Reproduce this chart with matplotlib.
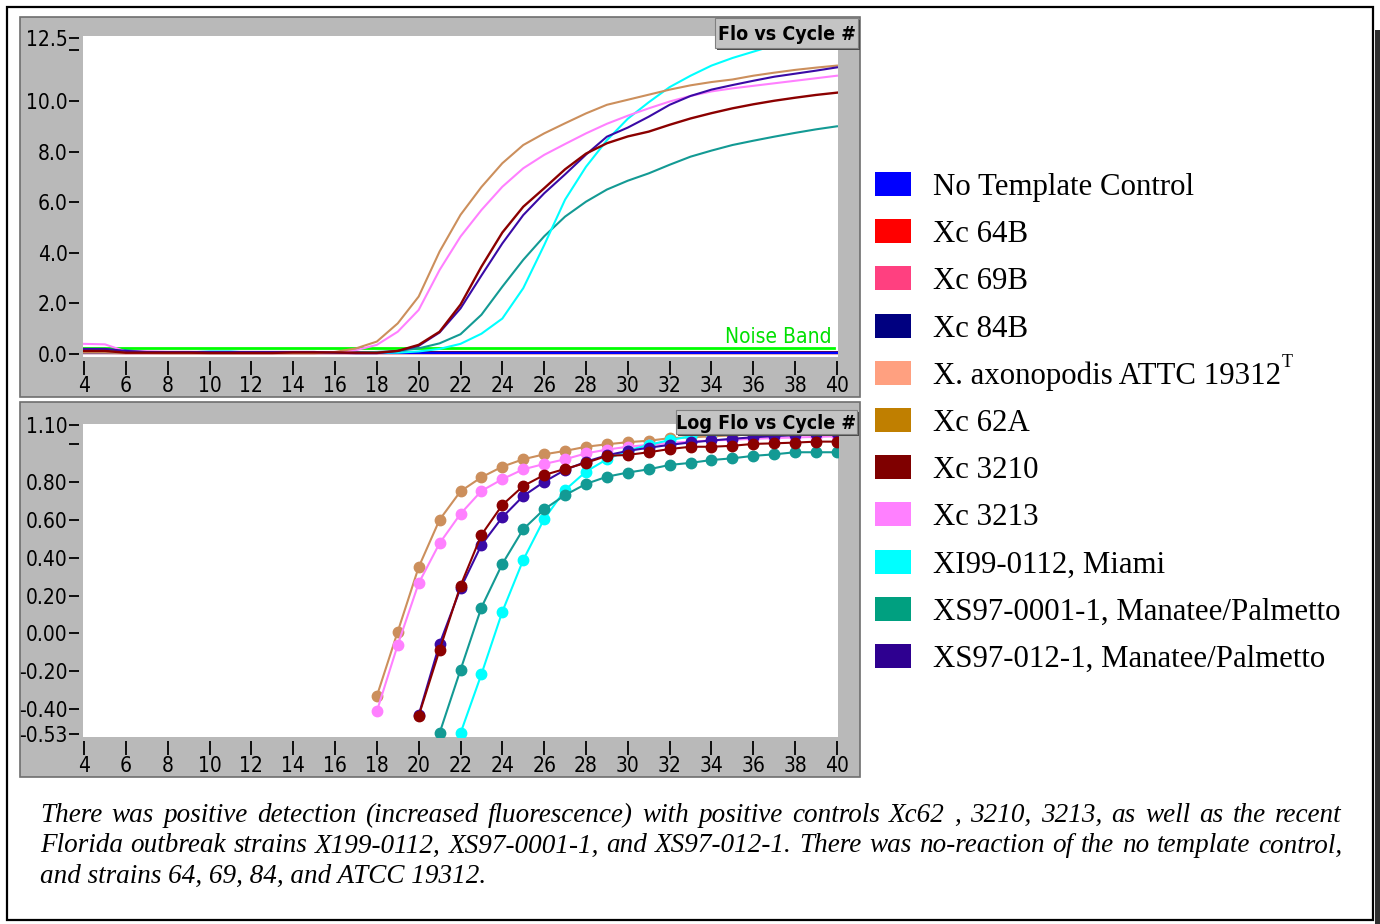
import os
import matplotlib
matplotlib.use("Agg")
import matplotlib.pyplot as plt
from matplotlib.patches import Rectangle
from matplotlib import font_manager
from matplotlib.font_manager import FontProperties
import numpy as np

W, H = 1380, 924
nan = np.nan

# ---- data -------------------------------------------------------------
cycles = list(range(4, 41))

# fluorescence (top panel), one value per cycle 4..40
ntc_flo = [0.04, 0.04, 0.04, 0.04, 0.04, 0.04, 0.04, 0.04, 0.04, 0.04, 0.04, 0.04, 0.04,
           0.04, 0.04, 0.04, 0.04, 0.04, 0.04, 0.04, 0.04, 0.04, 0.04, 0.04, 0.04,
           0.04, 0.04, 0.04, 0.04, 0.04, 0.04, 0.04, 0.04, 0.04, 0.04, 0.04, 0.04]
xc64b_flo = [0.07, 0.07, 0.07, 0.07, 0.07, 0.07, 0.07, 0.06, 0.06, 0.06, 0.06, 0.06, 0.06,
             0.06, 0.07, 0.07, 0.07, 0.07, 0.07, 0.07, 0.07, 0.07, 0.07, 0.07, 0.07,
             0.07, 0.07, 0.07, 0.07, 0.07, 0.07, 0.07, 0.07, 0.07, 0.07, 0.07, 0.07]
xc69b_flo = [0.05, 0.05, 0.04, 0.04, 0.04, 0.04, 0.04, 0.04, 0.04, 0.04, 0.04, 0.04, 0.04,
             0.04, 0.04, 0.04, 0.04, 0.04, 0.04, 0.04, 0.04, 0.04, 0.04, 0.04, 0.04,
             0.04, 0.04, 0.04, 0.04, 0.04, 0.04, 0.04, 0.04, 0.04, 0.04, 0.04, 0.04]
xc84b_flo = [0.12, 0.12, 0.06, 0.06, 0.06, 0.06, 0.06, 0.06, 0.06, 0.06, 0.06, 0.06, 0.06,
             0.06, 0.06, 0.06, 0.06, 0.06, 0.06, 0.06, 0.06, 0.06, 0.06, 0.06, 0.06,
             0.06, 0.06, 0.06, 0.06, 0.06, 0.06, 0.06, 0.06, 0.06, 0.06, 0.06, 0.06]
atcc_flo = [0.03, 0.03, 0.02, 0.02, 0.02, 0.02, 0.02, 0.02, 0.02, 0.02, 0.02, 0.02, 0.02,
            0.02, 0.02, 0.02, 0.02, 0.02, 0.02, 0.02, 0.02, 0.02, 0.02, 0.02, 0.02,
            0.02, 0.02, 0.02, 0.02, 0.02, 0.02, 0.02, 0.02, 0.02, 0.02, 0.02, 0.02]
xc62a_flo = [0.05, 0.05, 0.04, 0.04, 0.03, 0.03, 0.03, 0.03, 0.03, 0.03, 0.03, 0.03, 0.08,
             0.22, 0.49, 1.21, 2.27, 4.05, 5.50, 6.60, 7.54, 8.26, 8.72, 9.12, 9.51,
             9.85, 10.05, 10.25, 10.45, 10.62, 10.75, 10.85, 11.00, 11.12, 11.23, 11.32, 11.40]
xc3213_flo = [0.40, 0.38, 0.10, 0.10, 0.08, 0.08, 0.06, 0.05, 0.05, 0.05, 0.05, 0.05, 0.06,
              0.15, 0.36, 0.88, 1.74, 3.32, 4.64, 5.69, 6.61, 7.34, 7.87, 8.30, 8.72,
              9.10, 9.42, 9.71, 9.98, 10.20, 10.38, 10.50, 10.60, 10.70, 10.80, 10.90, 11.00]
xc3210_flo = [0.12, 0.12, 0.05, 0.05, 0.05, 0.05, 0.04, 0.04, 0.04, 0.04, 0.06, 0.06, 0.06,
              0.05, 0.05, 0.12, 0.36, 0.88, 1.95, 3.45, 4.80, 5.82, 6.55, 7.30, 7.92,
              8.33, 8.60, 8.79, 9.06, 9.31, 9.52, 9.71, 9.87, 10.01, 10.13, 10.24, 10.33]
xs97_012_flo = [0.20, 0.20, 0.12, 0.08, 0.08, 0.08, 0.08, 0.08, 0.08, 0.08, 0.08, 0.08, 0.05,
                0.03, 0.03, 0.12, 0.32, 0.85, 1.80, 3.10, 4.37, 5.49, 6.35, 7.10, 7.88,
                8.59, 8.95, 9.38, 9.85, 10.20, 10.45, 10.63, 10.80, 10.96, 11.08, 11.20, 11.33]
xi99_flo = [0.08, 0.08, 0.06, 0.06, 0.06, 0.06, 0.10, 0.10, 0.05, 0.05, 0.05, 0.05, 0.05,
            0.05, 0.05, 0.05, 0.10, 0.20, 0.40, 0.80, 1.40, 2.60, 4.30, 6.10, 7.40,
            8.45, 9.30, 9.95, 10.55, 11.00, 11.40, 11.70, 11.95, 12.20, 12.40, 12.60, 12.80]
xs97_0001_flo = [0.15, 0.15, 0.15, 0.06, 0.06, 0.06, 0.06, 0.06, 0.06, 0.06, 0.06, 0.06, 0.06,
                 0.05, 0.08, 0.12, 0.22, 0.42, 0.78, 1.55, 2.66, 3.72, 4.65, 5.43, 6.02,
                 6.50, 6.85, 7.14, 7.48, 7.80, 8.04, 8.26, 8.43, 8.59, 8.74, 8.88, 9.00]
noise_band = 0.24

# log fluorescence (bottom panel); nan = not plotted
xc62a_log = [nan] * 14 + [-0.33, 0.01, 0.35, 0.60, 0.75, 0.824, 0.88, 0.919, 0.945, 0.963,
                          0.985, 0.998, 1.009, 1.017, 1.03, 1.035, 1.04, 1.045, 1.05, 1.054,
                          1.058, 1.062, 1.065]
xc3213_log = [nan] * 14 + [-0.41, -0.06, 0.265, 0.476, 0.631, 0.752, 0.814, 0.866, 0.894, 0.919,
                           0.95, 0.97, 0.985, 0.995, 1.005, 1.012, 1.018, 1.022, 1.027, 1.031,
                           1.034, 1.037, 1.04]
xc3210_log = [nan] * 16 + [-0.435, -0.087, 0.252, 0.52, 0.678, 0.778, 0.836, 0.868, 0.90, 0.937,
                           0.942, 0.956, 0.973, 0.985, 0.985, 0.99, 1.0, 1.003, 1.007, 1.012,
                           1.012]
xs97_012_log = [nan] * 16 + [-0.43, -0.055, 0.238, 0.467, 0.613, 0.725, 0.80, 0.863, 0.906, 0.94,
                             0.963, 0.98, 0.995, 1.008, 1.018, 1.027, 1.035, 1.041, 1.046, 1.051,
                             1.055]
xi99_log = [nan] * 18 + [-0.526, -0.215, 0.115, 0.388, 0.604, 0.757, 0.854, 0.919, 0.965, 0.995,
                         1.02, 1.04, 1.055, 1.068, 1.08, 1.09, 1.097, 1.103, 1.108]
xs97_0001_log = [nan] * 17 + [-0.525, -0.192, 0.137, 0.367, 0.55, 0.655, 0.73, 0.789, 0.827, 0.849,
                              0.866, 0.889, 0.90, 0.915, 0.924, 0.937, 0.945, 0.956, 0.956, 0.956]

legend_labels = ["No Template Control", "Xc 64B", "Xc 69B", "Xc 84B",
                 "X. axonopodis ATTC 19312", "Xc 62A", "Xc 3210", "Xc 3213",
                 "XI99-0112, Miami", "XS97-0001-1, Manatee/Palmetto",
                 "XS97-012-1, Manatee/Palmetto"]
legend_colors = ["#0000FF", "#FF0000", "#FF4080", "#000080", "#FFA080", "#C07F00",
                 "#7F0000", "#FF80FF", "#00FFFF", "#00A080", "#2E0090"]

caption = [
    "There was positive detection (increased fluorescence) with positive controls Xc62 , 3210, 3213, as well as the recent",
    "Florida outbreak strains X199-0112, XS97-0001-1, and XS97-012-1.  There was no-reaction of the no template control,",
    "and strains 64, 69, 84, and ATCC 19312.",
]


# ---- fonts ------------------------------------------------------------
def find_font(patterns):
    files = [f.fname for f in font_manager.fontManager.ttflist]
    for p in patterns:
        for fn in files:
            if os.path.basename(fn).lower().startswith(p.lower()):
                return fn
    return None


narrow_reg = find_font(["LiberationSansNarrow-Regular", "DejaVuSansCondensed.",
                        "LiberationSans-Regular"])
narrow_bold = find_font(["LiberationSansNarrow-Bold.", "DejaVuSansCondensed-Bold.",
                         "LiberationSans-Bold."])
base = os.path.basename(narrow_reg or "").lower()
if "narrow" in base:
    TICK_SIZE = 16
elif "condensed" in base:
    TICK_SIZE = 15
else:
    TICK_SIZE = 14.5


def fp_narrow(size, bold=False):
    path = narrow_bold if bold else narrow_reg
    if path:
        return FontProperties(fname=path, size=size)
    return FontProperties(family="DejaVu Sans", size=size, weight="bold" if bold else "normal")


SERIF = "Liberation Serif"

# line colours in the plots (slightly different from the legend swatches)
C_62A, C_3213, C_3210 = "#CC8F5C", "#FF80FF", "#8B0000"
C_012, C_0112, C_0001 = "#3A0AA6", "#00FFFF", "#139A94"
PANEL = "#B9B9B9"


def fx(x):
    return x / W


def fy(y):
    return 1 - y / H


fig = plt.figure(figsize=(W / 100, H / 100), dpi=100)
fig.patch.set_facecolor("white")

# outer frame + shadow
fig.patches.append(Rectangle((fx(1375), fy(924)), fx(5), 894 / H, transform=fig.transFigure,
                             fc="#303030", ec="none", zorder=-2))
fig.patches.append(Rectangle((fx(7), fy(920)), fx(1366), 913 / H, transform=fig.transFigure,
                             fc="none", ec="black", lw=1.6, zorder=-2))

# gray instrument panels
for top, bot in [(17, 397), (402, 777)]:
    fig.patches.append(Rectangle((fx(20), fy(bot)), fx(840), (bot - top) / H,
                                 transform=fig.transFigure, fc=PANEL, ec="#6E6E6E",
                                 lw=1.2, zorder=-1))


def style_axes(ax, ylim, yticks, ylabels):
    ax.set_facecolor("white")
    ax.set_xlim(3.95, 40.05)
    ax.set_ylim(*ylim)
    for sp in ax.spines.values():
        sp.set_visible(False)
    ax.spines["bottom"].set_position(("outward", 3))
    ax.spines["left"].set_position(("outward", 3))
    ax.set_xticks(range(4, 41, 2))
    ax.set_xticklabels([str(v) for v in range(4, 41, 2)], fontproperties=fp_narrow(TICK_SIZE))
    ax.set_yticks(yticks)
    ax.set_yticklabels(ylabels, fontproperties=fp_narrow(TICK_SIZE))
    ax.tick_params(axis="x", direction="out", length=10, width=1.3, pad=1, colors="black")
    ax.tick_params(axis="y", direction="out", length=7, width=1.3, pad=1, colors="black")


# ---- top panel: Flo vs Cycle # -----------------------------------------
ax1 = fig.add_axes([fx(83), fy(357), fx(755), 321 / H])
style_axes(ax1, (-0.12, 12.57), [0, 2, 4, 6, 8, 10, 12, 12.5],
           ["0.0", "2.0", "4.0", "6.0", "8.0", "10.0", "", "12.5"])

for vals, col in [(atcc_flo, "#FFA080"), (xc69b_flo, "#FF4080"), (xc64b_flo, "#FF0000"),
                  (xc84b_flo, "#000080"), (ntc_flo, "#0000FF")]:
    ax1.plot(cycles, vals, color=col, lw=1.6, zorder=2)
ax1.axhline(noise_band, xmin=0, xmax=0.995, color="#00FF00", lw=2, zorder=3)
for vals, col, lw in [(xs97_0001_flo, C_0001, 1.5), (xi99_flo, C_0112, 1.5),
                      (xc3213_flo, C_3213, 1.5), (xc62a_flo, C_62A, 1.5),
                      (xs97_012_flo, C_012, 1.5), (xc3210_flo, C_3210, 1.7)]:
    ax1.plot(cycles, vals, color=col, lw=lw, zorder=4)
ax1.text(39.75, 0.67, "Noise Band", color="#00E000", fontproperties=fp_narrow(TICK_SIZE),
         ha="right", va="center", zorder=5)

# ---- bottom panel: Log Flo vs Cycle # ----------------------------------
ax2 = fig.add_axes([fx(83), fy(737), fx(755), 313 / H])
style_axes(ax2, (-0.546, 1.105), [-0.53, -0.4, -0.2, 0.0, 0.2, 0.4, 0.6, 0.8, 1.0, 1.1],
           ["-0.53", "-0.40", "-0.20", "0.00", "0.20", "0.40", "0.60", "0.80", "", "1.10"])

for vals, col in [(xc62a_log, C_62A), (xc3213_log, C_3213), (xi99_log, C_0112),
                  (xs97_0001_log, C_0001), (xs97_012_log, C_012), (xc3210_log, C_3210)]:
    ax2.plot(cycles, vals, color=col, lw=1.5, marker="o", ms=7.5, mec=col, mfc=col, zorder=4)

# ---- title boxes -------------------------------------------------------
for (x0, y0, x1, y1, label) in [(715, 18, 858, 48, "Flo vs Cycle #"),
                                 (676, 410, 857, 434, "Log Flo vs Cycle #")]:
    fig.patches.append(Rectangle((fx(x0 + 2), fy(y1 + 2)), fx(x1 - x0), (y1 - y0) / H,
                                 transform=fig.transFigure, fc="#4A4A4A", ec="none", zorder=5))
    fig.patches.append(Rectangle((fx(x0), fy(y1)), fx(x1 - x0), (y1 - y0) / H,
                                 transform=fig.transFigure, fc="#C4C4C4", ec="#808080",
                                 lw=0.8, zorder=5.5))
    fig.text(fx((x0 + x1) / 2), fy((y0 + y1) / 2 + 1), label,
             fontproperties=fp_narrow(TICK_SIZE - 1, bold=True),
             ha="center", va="center", zorder=6)

# ---- legend ------------------------------------------------------------
renderer = fig.canvas.get_renderer()
for i, (lab, col) in enumerate(zip(legend_labels, legend_colors)):
    yc = 184 + i * 47.2
    fig.patches.append(Rectangle((fx(875), fy(yc + 12)), fx(36), 24 / H,
                                 transform=fig.transFigure, fc=col, ec="none", zorder=2))
    t = fig.text(fx(933), fy(yc + 11), lab, family=SERIF, fontsize=22.2,
                 ha="left", va="baseline")
    if lab.startswith("X. axonopodis"):
        bb = t.get_window_extent(renderer)
        fig.text(bb.x1 / W + fx(1), fy(yc - 6), "T", family=SERIF, fontsize=13,
                 ha="left", va="baseline")

# ---- caption, justified ------------------------------------------------
CAP_SIZE = 19.5
x_left, x_right = 40, 1342
for k, line in enumerate(caption):
    yb = 822 + k * 30.5
    if k == len(caption) - 1:
        fig.text(fx(x_left), fy(yb), line, family=SERIF, style="italic",
                 fontsize=CAP_SIZE, ha="left", va="baseline")
        continue
    words = line.split()
    texts = [fig.text(0, fy(yb), w, family=SERIF, style="italic", fontsize=CAP_SIZE,
                      ha="left", va="baseline") for w in words]
    widths = [t.get_window_extent(renderer).width for t in texts]
    gap = (x_right - x_left - sum(widths)) / (len(words) - 1)
    x = x_left
    for t, w in zip(texts, widths):
        t.set_x(fx(x))
        x += w + gap

fig.savefig("out.png", dpi=100, facecolor="white")
